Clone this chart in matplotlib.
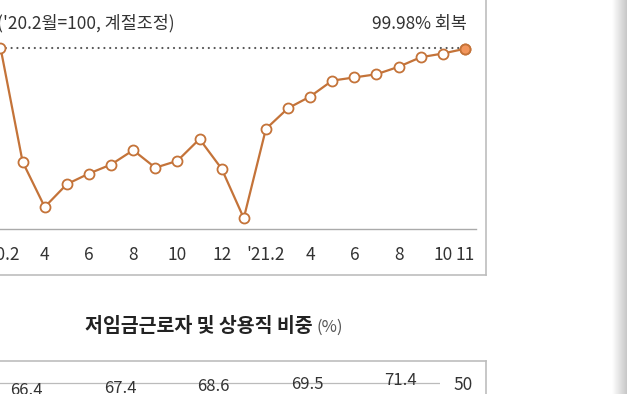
import numpy as np
import matplotlib.pyplot as plt
from matplotlib.lines import Line2D

plt.rcParams['font.family'] = ['Noto Sans CJK KR', 'DejaVu Sans']

# employment index, '20.2 = 100 (seasonally adjusted), monthly '20.2 .. '21.11
index_values = [100.0, 97.85, 97.0, 97.43, 97.63, 97.80, 98.07, 97.74, 97.87, 98.28,
                97.72, 96.79, 98.47, 98.86, 99.08, 99.38, 99.44, 99.50, 99.64, 99.82,
                99.89, 99.98]
tick_positions = [0, 2, 4, 6, 8, 10, 12, 14, 16, 18, 20, 21]
tick_labels = ["'20.2", '4', '6', '8', '10', '12', "'21.2", '4', '6', '8', '10', '11']

# lower chart (cut off): share of regular workers, labels only
share_values = [66.4, 67.4, 68.6, 69.5, 71.4]
grid_ticks = [50]

W, H = 627, 394
LINE_C = '#c47339'
TEXT_C = '#333333'
FRAME_C = '#bdbdbd'


def fx(px):
    return px / W


def fy(py):
    return (H - py) / H


fig = plt.figure(figsize=(W / 100, H / 100), dpi=100)

# --- top line chart ---
ax = fig.add_axes([fx(0), fy(229), fx(476), fy(0) - fy(229)])
x = np.arange(len(index_values))
ax.plot([0, len(index_values) - 1], [100, 100], color='#555555', lw=1.6,
        linestyle=(0, (0.01, 2.6)), dash_capstyle='round', zorder=1)
ax.plot(x, index_values, color=LINE_C, lw=1.6, marker='o', ms=7.2,
        mfc='white', mec=LINE_C, mew=1.3, zorder=2, clip_on=False)
ax.plot(x[-1], index_values[-1], marker='o', ms=7.2, mfc='#f2955b', mec=LINE_C,
        mew=1.3, zorder=3, clip_on=False)
ax.set_xlim(-0.0226, 21.50)
ax.set_ylim(96.586, 100.898)
ax.set_xticks(tick_positions)
ax.set_xticklabels(tick_labels)
ax.tick_params(axis='x', length=0, pad=12.5, labelsize=12.5, colors=TEXT_C)
ax.set_yticks([])
for s in ['top', 'left', 'right']:
    ax.spines[s].set_visible(False)
ax.spines['bottom'].set_color('#aaaaaa')
ax.spines['bottom'].set_linewidth(1.0)
ax.patch.set_alpha(0)

fig.text(fx(-3), fy(23), "('20.2월=100, 계절조정)", ha='left', va='center',
         fontsize=12.5, color=TEXT_C)
fig.text(fx(467), fy(24), '99.98% 회복', ha='right', va='center',
         fontsize=12.5, color=TEXT_C)

# frame of the top graphic
fig.add_artist(Line2D([fx(486), fx(486)], [fy(0), fy(275)], color=FRAME_C, lw=1.2))
fig.add_artist(Line2D([fx(0), fx(486)], [fy(275), fy(275)], color=FRAME_C, lw=1.2))

# --- lower chart (only its top is visible) ---
fig.text(fx(85), fy(327), '저임금근로자 및 상용직 비중', ha='left', va='center',
         fontsize=14, fontweight='bold', color='#222222')
fig.text(fx(316), fy(327), '(%)', ha='left', va='center', fontsize=12, color='#555555')
fig.add_artist(Line2D([fx(0), fx(486)], [fy(361), fy(361)], color=FRAME_C, lw=1.2))
fig.add_artist(Line2D([fx(486), fx(486)], [fy(361), fy(394)], color=FRAME_C, lw=1.2))

bpos = [fx(0), fy(493), fx(440), fy(361) - fy(493)]
axb = fig.add_axes(bpos)
axb.set_ylim(0, 60)
axb.set_xlim(-0.283, 4.42)
axb.yaxis.tick_right()
axb.set_yticks(grid_ticks)
axb.tick_params(axis='y', length=0, pad=10, labelsize=12.5, colors=TEXT_C)
axb.set_xticks([])
axb.yaxis.grid(True, color='#bbbbbb', lw=0.9)
for s in axb.spines.values():
    s.set_visible(False)
axb.patch.set_alpha(0)

# value labels on their own scale
axl = fig.add_axes(bpos)
axl.set_xlim(-0.283, 4.42)
axl.set_ylim(19.4, 85.4)
axl.axis('off')
for i, v in enumerate(share_values):
    axl.annotate(f'{v}', (i, v), xytext=(0, 0), textcoords='offset points',
                 ha='center', va='bottom', fontsize=12, color=TEXT_C)

# page shadow on the right edge
axs = fig.add_axes([fx(612), 0, fx(15), 1])
grad = np.linspace(1.0, 0.78, 50).reshape(1, -1)
axs.imshow(grad, cmap='gray', vmin=0, vmax=1, aspect='auto', extent=[0, 1, 0, 1])
axs.axis('off')

fig.savefig('out.png', dpi=100)
